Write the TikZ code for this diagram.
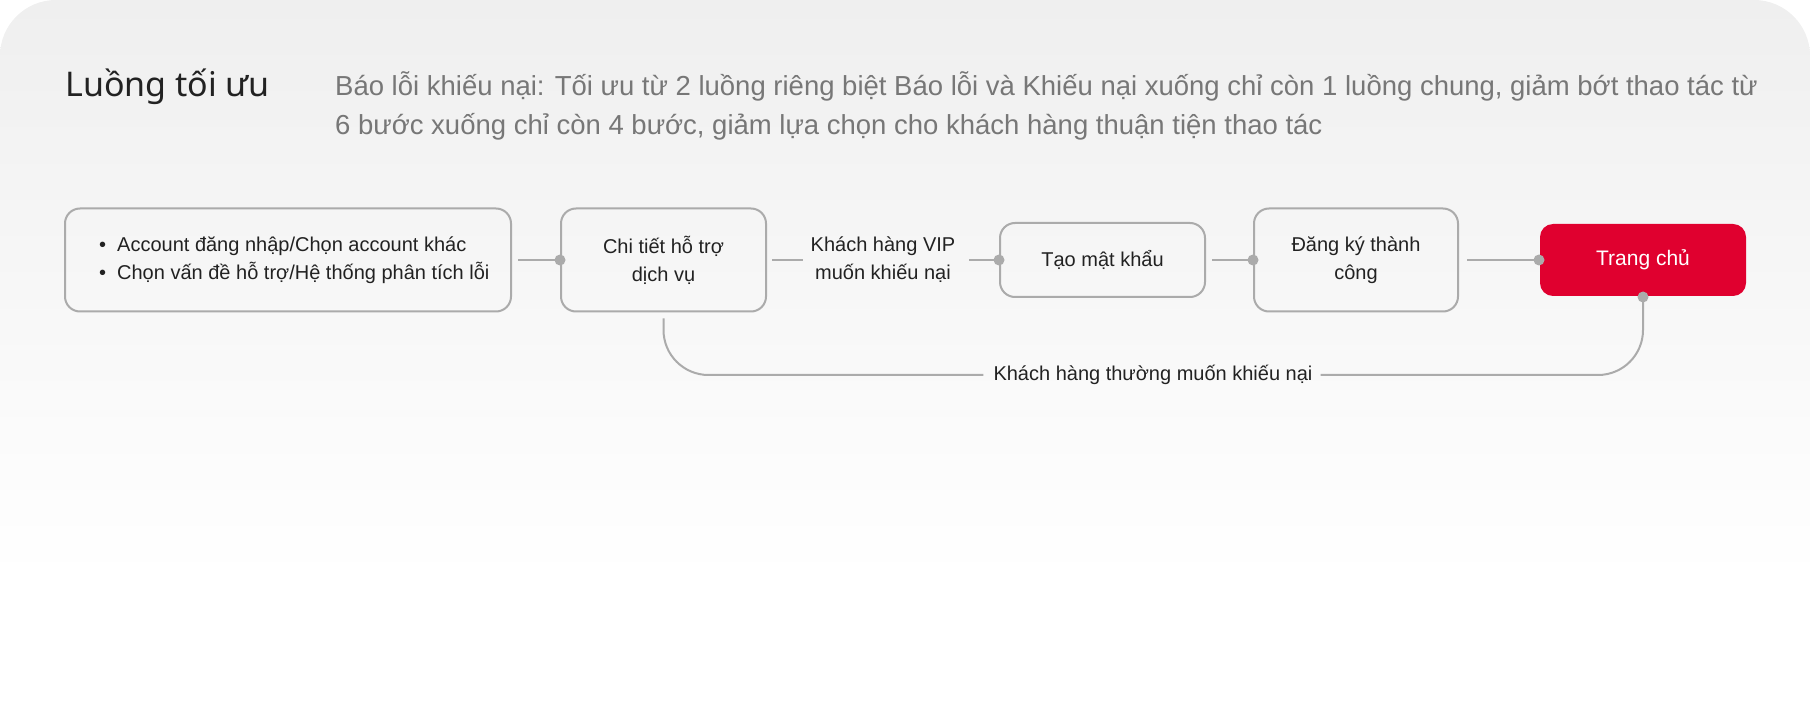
\documentclass[tikz,border=0pt]{standalone}
\usepackage{fontspec}
\setmainfont{Liberation Sans}
\newfontfamily\titlefont{Noto Sans}
\definecolor{bgtop}{HTML}{EFEFEF}
\definecolor{edge}{HTML}{ABABAB}
\definecolor{ink}{HTML}{222222}
\definecolor{desc}{HTML}{777777}
\definecolor{brand}{HTML}{E0002F}
\begin{document}
\begin{tikzpicture}[x=1pt,y=-1pt,
  box/.style={draw=edge, line width=2pt, rounded corners=15pt, font=\fontsize{20}{28}\selectfont, text=ink, align=center, inner sep=0pt},
  conn/.style={draw=edge, line width=2pt},
  dot/.style={circle, fill=edge, inner sep=0pt, minimum size=11pt},
  lbl/.style={font=\fontsize{20}{28}\selectfont, text=ink, align=center, inner sep=0pt}]
\useasboundingbox (0,0) rectangle (1810,708);
\begin{scope}
\clip[rounded corners=56pt] (0,0) rectangle (1810,708);
\fill[white] (0,0) rectangle (1810,708);
\shade[top color=bgtop, bottom color=white] (0,0) rectangle (1810,580);
\end{scope}
\node[anchor=base west, inner sep=0pt, font=\titlefont\fontsize{34}{40}\selectfont, text=ink] (title) at (65,97) {Luồng tối ưu};
\node[anchor=base west, inner sep=0pt, font=\fontsize{27.5}{39}\selectfont, text=desc] (desc1) at (335,96) {Báo lỗi khiếu nại: Tối ưu từ 2 luồng riêng biệt Báo lỗi và Khiếu nại xuống chỉ còn 1 luồng chung, giảm bớt thao tác từ};
\node[anchor=base west, inner sep=0pt, font=\fontsize{27.5}{39}\selectfont, text=desc] (desc2) at (335,135) {6 bước xuống chỉ còn 4 bước, giảm lựa chọn cho khách hàng thuận tiện thao tác};

\node[box, minimum width=446pt, minimum height=103pt] (b1) at (288,260) {};
\node[lbl, anchor=west, align=left] (b1txt) at ([xshift=35pt]b1.west)
  {\makebox[18pt][l]{•}Account đăng nhập/Chọn account khác\\\makebox[18pt][l]{•}Chọn vấn đề hỗ trợ/Hệ thống phân tích lỗi};
\node[box, minimum width=205pt, minimum height=103pt] (b2) at (663.5,260) {Chi tiết hỗ trợ\\dịch vụ};
\node[lbl] (vip) at (883,260) {Khách hàng VIP\\muốn khiếu nại};
\node[box, minimum width=205pt, minimum height=74pt] (b3) at (1102.5,260) {Tạo mật khẩu};
\node[box, minimum width=204pt, minimum height=103pt] (b4) at (1356,260) {Đăng ký thành\\công};
\node[box, draw=none, fill=brand, text=white, font=\fontsize{21}{28}\selectfont, rounded corners=13pt, minimum width=206pt, minimum height=72pt] (b5) at (1643,260) {Trang chủ};
\node[lbl] (lblB) at (1153,375) {Khách hàng thường muốn khiếu nại};

\draw[conn] ([xshift=6pt]b1.east) -- (b2.west);
\draw[conn] ([xshift=5pt]b2.east) -- ([xshift=-8pt]vip.west);
\draw[conn] ([xshift=14pt]vip.east) -- (b3.west);
\draw[conn] ([xshift=6pt]b3.east) -- (b4.west);
\draw[conn] ([xshift=8pt]b4.east) -- (b5.west);
\draw[conn, rounded corners=45pt] ([yshift=-6pt]b2.south) |- ([xshift=-10pt]lblB.west);
\draw[conn, rounded corners=45pt] ([xshift=8pt]lblB.east) -| (b5.south);

\node[dot] (d1) at (b2.west) {};
\node[dot] (d2) at (b3.west) {};
\node[dot] (d3) at (b4.west) {};
\node[dot] (d4) at (b5.west) {};
\node[dot] (d5) at (b5.south) {};
\end{tikzpicture}
\end{document}
